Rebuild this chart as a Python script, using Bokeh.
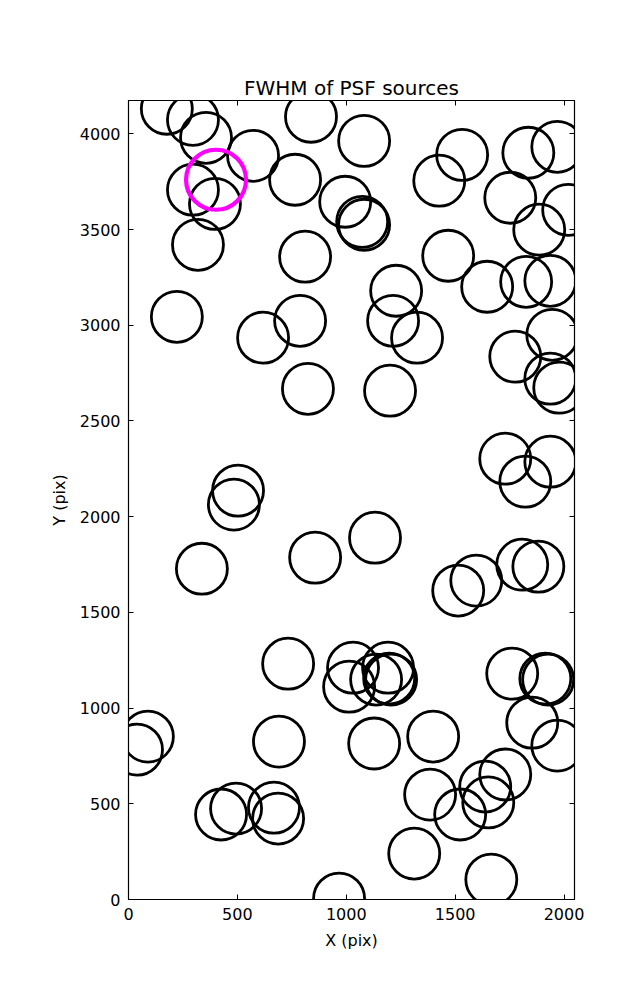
from bokeh.plotting import figure
from bokeh.models import LinearAxis, FixedTicker, Range1d
from bokeh.embed import file_html
from bokeh.resources import INLINE

# Source positions (pix)
src_x = [176, 296, 356, 572, 296, 397, 319, 222, 618, 788,
         765, 838, 811, 995, 1082, 1073, 1082, 1532, 1427, 1836,
         1969, 1753, 2019, 1886, 1468, 1647, 1826, 1937, 1229, 1215,
         1325, 1776, 1946, 1937, 1978, 824, 503, 484, 337, 857,
         1201, 1730, 1937, 1822, 1132, 1514, 1597, 1808, 1882, 733,
         1013, 1031, 89, 39, 691, 425, 494, 668, 687, 967,
         1137, 1192, 1197, 1206, 1128, 1399, 1762, 1914, 1927, 1854,
         1969, 1730, 1638, 1652, 1385, 1523, 1312, 1666]
src_y = [4131, 4073, 3979, 3885, 3708, 3634, 3420, 3044, 2935, 3023,
         3760, 4089, 3358, 3645, 3963, 3540, 3525, 3890, 3755, 3901,
         3932, 3666, 3603, 3499, 3363, 3201, 3227, 3232, 3180, 3023,
         2935, 2836, 2950, 2721, 2674, 2668, 2136, 2063, 1728, 1786,
         2658, 2303, 2287, 2183, 1890, 1614, 1666, 1749, 1739, 1232,
         1112, 1211, 851, 783, 825, 444, 475, 480, 423, 5,
         1149, 1211, 1154, 1149, 815, 851, 1180, 1154, 1149, 924,
         804, 653, 590, 507, 548, 444, 240, 104]

# Highlighted source
hl_x = [402]
hl_y = [3760]

x_ticks = [0, 500, 1000, 1500, 2000]
y_ticks = [0, 500, 1000, 1500, 2000, 2500, 3000, 3500, 4000]

FONT = "DejaVu Sans"

p = figure(width=621, height=984, output_backend="svg", toolbar_location=None,
           x_range=Range1d(0, 2048), y_range=Range1d(0, 4174),
           min_border_left=128, min_border_right=47,
           min_border_top=100, min_border_bottom=85,
           title="FWHM of PSF sources")

p.title.text_font = FONT
p.title.text_font_size = "20px"
p.title.text_font_style = "normal"
p.title.align = "center"
p.title.text_color = "black"
p.title.standoff = 2

p.xgrid.visible = False
p.ygrid.visible = False
p.outline_line_color = "black"
p.outline_line_width = 1.2
p.background_fill_color = "white"
p.border_fill_color = "white"

p.xaxis.axis_label = "X (pix)"
p.yaxis.axis_label = "Y (pix)"

for ax, ticks in ((p.xaxis[0], x_ticks), (p.yaxis[0], y_ticks)):
    ax.ticker = FixedTicker(ticks=ticks)
    ax.major_tick_in = 5
    ax.major_tick_out = 0
    ax.minor_tick_in = 0
    ax.minor_tick_out = 0
    ax.major_tick_line_color = "black"
    ax.axis_line_color = "black"
    ax.major_label_text_font = FONT
    ax.major_label_text_font_size = "16px"
    ax.major_label_text_color = "black"
    ax.major_label_standoff = 8
    ax.axis_label_text_font = FONT
    ax.axis_label_text_font_size = "16px"
    ax.axis_label_text_font_style = "normal"
    ax.axis_label_text_color = "black"
    ax.axis_label_standoff = 8

# tick marks on top and right sides, no labels
for loc, ticks in (("above", x_ticks), ("right", y_ticks)):
    ax = LinearAxis(ticker=FixedTicker(ticks=ticks))
    ax.major_tick_in = 5
    ax.major_tick_out = 0
    ax.minor_tick_in = 0
    ax.minor_tick_out = 0
    ax.major_label_overrides = {t: "" for t in ticks}
    ax.major_label_standoff = 0
    ax.axis_line_color = "black"
    p.add_layout(ax, loc)

p.scatter(src_x, src_y, marker="circle", size=51, fill_color=None,
          line_color="black", line_width=2.8)
p.scatter(hl_x, hl_y, marker="circle", size=60, fill_color=None,
          line_color="#ff00ff", line_width=4.2)

open("out.html", "w").write(file_html(p, INLINE))
